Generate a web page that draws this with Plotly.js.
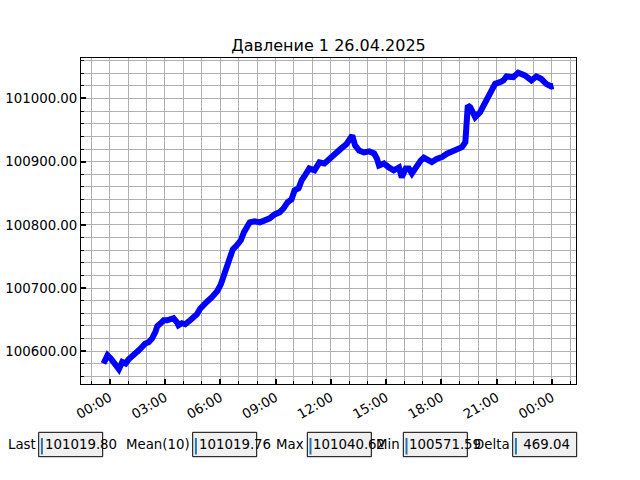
<!DOCTYPE html>
<html>
<head>
<meta charset="utf-8">
<script src="https://cdn.plot.ly/plotly-3.0.1.min.js"></script>
<style>html,body{margin:0;padding:0;background:#fff;}#chart{width:640px;height:480px;}</style>
</head>
<body>
<div id="chart"></div>
<script>
// ---- data ----
const times = [
  "2025-04-25 23:40","2025-04-25 23:47","2025-04-25 23:53","2025-04-26 00:03","2025-04-26 00:14",
  "2025-04-26 00:25","2025-04-26 00:30","2025-04-26 00:41","2025-04-26 00:52","2025-04-26 01:02",
  "2025-04-26 01:13","2025-04-26 01:24","2025-04-26 01:35","2025-04-26 01:46","2025-04-26 01:56",
  "2025-04-26 02:07","2025-04-26 02:18","2025-04-26 02:29","2025-04-26 02:35","2025-04-26 02:45",
  "2025-04-26 02:56","2025-04-26 03:07","2025-04-26 03:17","2025-04-26 03:28","2025-04-26 03:39",
  "2025-04-26 03:44","2025-04-26 03:55","2025-04-26 04:06","2025-04-26 04:22","2025-04-26 04:33",
  "2025-04-26 04:44","2025-04-26 04:55","2025-04-26 05:05","2025-04-26 05:16","2025-04-26 05:33",
  "2025-04-26 05:50","2025-04-26 06:02","2025-04-26 06:12","2025-04-26 06:22","2025-04-26 06:32",
  "2025-04-26 06:41","2025-04-26 06:54","2025-04-26 07:07","2025-04-26 07:17","2025-04-26 07:27",
  "2025-04-26 07:36","2025-04-26 07:52","2025-04-26 08:09","2025-04-26 08:25","2025-04-26 08:41",
  "2025-04-26 08:57","2025-04-26 09:13","2025-04-26 09:26","2025-04-26 09:39","2025-04-26 09:52",
  "2025-04-26 10:02","2025-04-26 10:15","2025-04-26 10:25","2025-04-26 10:38","2025-04-26 10:50",
  "2025-04-26 11:07","2025-04-26 11:23","2025-04-26 11:39","2025-04-26 11:55","2025-04-26 12:15",
  "2025-04-26 12:34","2025-04-26 12:50","2025-04-26 13:03","2025-04-26 13:10","2025-04-26 13:19",
  "2025-04-26 13:32","2025-04-26 13:48","2025-04-26 14:05","2025-04-26 14:21","2025-04-26 14:30",
  "2025-04-26 14:37","2025-04-26 14:53","2025-04-26 15:09","2025-04-26 15:25","2025-04-26 15:42",
  "2025-04-26 15:51","2025-04-26 16:04","2025-04-26 16:14","2025-04-26 16:24","2025-04-26 16:40",
  "2025-04-26 16:53","2025-04-26 17:03","2025-04-26 17:19","2025-04-26 17:29","2025-04-26 17:46",
  "2025-04-26 18:02","2025-04-26 18:18","2025-04-26 18:40","2025-04-26 19:07","2025-04-26 19:18",
  "2025-04-26 19:23","2025-04-26 19:26","2025-04-26 19:34","2025-04-26 19:41","2025-04-26 19:50",
  "2025-04-26 20:06","2025-04-26 20:22","2025-04-26 20:38","2025-04-26 20:55","2025-04-26 21:11",
  "2025-04-26 21:22","2025-04-26 21:32","2025-04-26 21:54","2025-04-26 22:10","2025-04-26 22:32",
  "2025-04-26 22:53","2025-04-26 23:09","2025-04-26 23:25","2025-04-26 23:41","2025-04-26 23:58",
  "2025-04-27 00:05"
];
const pressure = [
  100580.6,100592.1,100593.7,100588.9,100583.1,
  100576.3,100571.59,100583.1,100580.6,100587.4,
  100593.7,100596.8,100601.6,100607.9,100612.2,
  100614.2,100620.1,100630.5,100639.5,100643.8,
  100649.0,100649.0,100651.7,100652.2,100645.9,
  100641.1,100644.3,100642.7,100649.0,100653.8,
  100658.5,100667.5,100674.3,100677.9,100685.4,
  100694.9,100705.9,100718.6,100736.0,100750.2,
  100761.3,100767.6,100775.5,100788.1,100799.2,
  100804.0,100805.5,100804.0,100807.1,100810.3,
  100816.6,100819.8,100826.1,100835.6,100840.3,
  100854.5,100857.7,100870.4,100879.8,100889.3,
  100886.2,100898.8,100897.2,100905.1,100914.6,
  100921.0,100927.3,100936.8,100941.5,100925.7,
  100917.8,100914.6,100916.2,100913.0,100905.1,
  100894.0,100897.2,100890.9,100886.2,100890.9,
  100875.1,100889.3,100889.3,100881.4,100894.0,
  100902.0,100906.2,100900.4,100899.3,100904.7,
  100907.2,100912.6,100917.8,100923.0,100930.9,
  100954.6,100988.9,100986.2,100977.9,100970.4,
  100978.3,100994.1,101009.9,101023.2,101025.8,
  101028.5,101034.8,101033.7,101040.62,101036.4,
  101028.5,101034.8,101031.1,101023.2,101019.0,
  101019.80
];
const statLabels = ["Last", "Mean(10)", "Max", "Min", "Delta"];
const statValues = ["101019.80", "101019.76", "101040.62", "100571.59", " 469.04"];
const titleText = "Давление 1 26.04.2025";

// ---- layout helpers ----
const L = 81, R = 576, T = 58, B = 384;
const px = x => (x - L) / (R - L);
const py = y => (B - y) / (B - T);
const FONT = "DejaVu Sans";

// matplotlib-style 5% margins
const tms = times.map(t => new Date(t.replace(" ", "T") + ":00Z").getTime());
const t0 = Math.min(...tms), t1 = Math.max(...tms);
const tpad = (t1 - t0) * 0.05;
const fmt = ms => new Date(ms).toISOString().replace("T", " ").slice(0, 19);
const vmin = Math.min(...pressure), vmax = Math.max(...pressure);
const vpad = (vmax - vmin) * 0.05;

const boxLeft = [38.7, 192.7, 307.3, 403.3, 512.7];
const boxW = 64, boxTop = 432.3, boxBot = 456.7, midY = 444.5;

const shapes = [], annotations = [];
statLabels.forEach((lab, i) => {
  const bx = boxLeft[i];
  shapes.push({type: "rect", xref: "paper", yref: "paper",
    x0: px(bx), x1: px(bx + boxW), y0: py(boxBot), y1: py(boxTop),
    fillcolor: "#f0f0f0", line: {color: "#000", width: 1}, layer: "below"});
  shapes.push({type: "line", xref: "paper", yref: "paper",
    x0: px(bx + 3.2), x1: px(bx + 3.2), y0: py(454.5), y1: py(438),
    line: {color: "#1f77b4", width: 2}});
  annotations.push({xref: "paper", yref: "paper", x: px(bx - 2), y: py(midY),
    xanchor: "right", yanchor: "middle", showarrow: false, borderpad: 0,
    text: lab, font: {family: FONT, size: 13.33, color: "#000"}});
  annotations.push({xref: "paper", yref: "paper", x: px(bx + 4.8), y: py(midY),
    xanchor: "left", yanchor: "middle", showarrow: false, borderpad: 0,
    text: statValues[i].replace(/ /g, "&nbsp;"), font: {family: FONT, size: 13.33, color: "#000"}});
});

const grid = "#b0b0b0";
const trace = {
  x: times, y: pressure, type: "scatter", mode: "lines",
  line: {color: "#0000ff", width: 6},
  hoverinfo: "skip"
};

const layout = {
  width: 640, height: 480,
  margin: {l: L, r: 640 - R, t: T, b: 480 - B, pad: 0},
  paper_bgcolor: "#fff", plot_bgcolor: "#fff",
  showlegend: false,
  font: {family: FONT, size: 13.33, color: "#000"},
  title: {text: titleText, x: 0.5, xref: "paper", xanchor: "center",
    y: 1 - 45 / 480, yref: "container", yanchor: "middle",
    font: {family: FONT, size: 16, color: "#000"}},
  xaxis: {
    type: "date",
    range: [fmt(t0 - tpad), fmt(t1 + tpad)],
    tick0: "2025-04-26 00:00", dtick: 3 * 3600000, tickformat: "%H:%M",
    tickangle: -30,
    ticks: "inside", ticklen: 5, tickwidth: 2, tickcolor: "#000",
    showline: true, linecolor: "#000", linewidth: 1, mirror: true,
    showgrid: true, gridcolor: grid, gridwidth: 1, zeroline: false,
    minor: {dtick: 3600000, tick0: "2025-04-26 00:00", ticks: "inside", ticklen: 3, tickwidth: 1,
      tickcolor: "#000", showgrid: true, gridcolor: grid, gridwidth: 1},
    tickfont: {family: FONT, size: 13.33, color: "#000"}
  },
  yaxis: {
    range: [vmin - vpad, vmax + vpad],
    tick0: 100000, dtick: 100, tickformat: ".2f",
    ticks: "inside", ticklen: 5, tickwidth: 2, tickcolor: "#000",
    showline: true, linecolor: "#000", linewidth: 1, mirror: true,
    showgrid: true, gridcolor: grid, gridwidth: 1, zeroline: false,
    minor: {dtick: 20, ticks: "inside", ticklen: 3, tickwidth: 1,
      tickcolor: "#000", showgrid: true, gridcolor: grid, gridwidth: 1},
    tickfont: {family: FONT, size: 13.33, color: "#000"}
  },
  shapes: shapes,
  annotations: annotations
};

Plotly.newPlot("chart", [trace], layout, {staticPlot: true, displayModeBar: false});
</script>
</body>
</html>
